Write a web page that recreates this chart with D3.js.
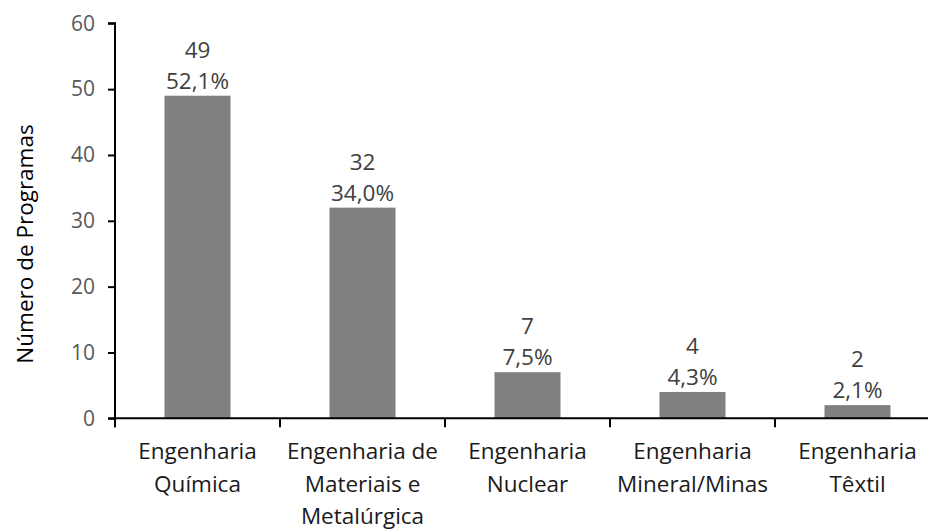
<!DOCTYPE html>
<html>
<head>
<meta charset="utf-8">
<script src="https://cdn.jsdelivr.net/npm/d3@7"></script>
<style>
  body { margin: 0; background: #fff; }
  svg { display: block; }
  text { font-family: "Open Sans", "Noto Sans", sans-serif; }
</style>
</head>
<body>
<svg id="chart" width="928" height="530"></svg>
<script>
const categories = [
  "Engenharia\nQuímica",
  "Engenharia de\nMateriais e\nMetalúrgica",
  "Engenharia\nNuclear",
  "Engenharia\nMineral/Minas",
  "Engenharia\nTêxtil"
];
const counts = [49, 32, 7, 4, 2];
const percents = ["52,1%", "34,0%", "7,5%", "4,3%", "2,1%"];
const yTicks = [0, 10, 20, 30, 40, 50, 60];
const yTitle = "Número de Programas";

const svg = d3.select("#chart");
const x0 = 115, x1 = 940, yTop = 23.3, yBot = 418.3;

const x = d3.scaleBand().domain(categories).range([x0, x1])
  .paddingInner(0.6).paddingOuter(0.3);
const y = d3.scaleLinear().domain([0, 60]).range([yBot, yTop]);

// bars
svg.append("g").selectAll("rect").data(categories).join("rect")
  .attr("x", d => x(d))
  .attr("y", (d, i) => y(counts[i]))
  .attr("width", x.bandwidth())
  .attr("height", (d, i) => y(0) - y(counts[i]))
  .attr("fill", "#808080");

// y axis
const yAxis = svg.append("g").attr("transform", `translate(${x0},0)`)
  .call(d3.axisLeft(y).tickValues(yTicks).tickSize(7).tickPadding(13).tickFormat(d3.format("d")));
yAxis.select(".domain").attr("stroke", "#000").attr("stroke-width", 2)
  .attr("d", `M-7,${yTop}H0V${yBot + 9}`);
yAxis.selectAll(".tick line").attr("stroke", "#000").attr("stroke-width", 2);
yAxis.selectAll(".tick text").attr("fill", "#595959").style("font-size", "21px")
  .style("font-family", '"Open Sans", sans-serif');

// x axis line
const step = x.step();
svg.append("line").attr("x1", x0 - 7).attr("x2", x1).attr("y1", yBot).attr("y2", yBot)
  .attr("stroke", "#000").attr("stroke-width", 2);
const bounds = categories.map(d => x(d) + x.bandwidth() / 2 - step / 2).concat([x(categories[categories.length - 1]) + x.bandwidth() / 2 + step / 2]);
svg.append("g").selectAll("line").data(bounds).join("line")
  .attr("x1", d => d).attr("x2", d => d)
  .attr("y1", yBot).attr("y2", yBot + 9)
  .attr("stroke", "#000").attr("stroke-width", 2);

// category labels
const catG = svg.append("g");
categories.forEach(c => {
  const t = catG.append("text")
    .attr("x", x(c) + x.bandwidth() / 2)
    .attr("y", 459)
    .attr("text-anchor", "middle")
    .attr("fill", "#1a1a1a")
    .style("font-size", "22.5px");
  c.split("\n").forEach((line, j) => {
    t.append("tspan").attr("x", x(c) + x.bandwidth() / 2).attr("y", 459 + j * 32.5).text(line);
  });
});

// data labels
const lab = svg.append("g");
categories.forEach((c, i) => {
  const cx = x(c) + x.bandwidth() / 2;
  const top = y(counts[i]);
  lab.append("text").attr("x", cx).attr("y", top - 7)
    .attr("text-anchor", "middle").attr("fill", "#404040").style("font-size", "22.5px")
    .text(percents[i]);
  lab.append("text").attr("x", cx).attr("y", top - 38)
    .attr("text-anchor", "middle").attr("fill", "#404040").style("font-size", "22.5px")
    .text(counts[i]);
});

// y title
svg.append("text")
  .attr("transform", `translate(33,244) rotate(-90)`)
  .attr("text-anchor", "middle")
  .attr("fill", "#000")
  .style("font-size", "22.5px")
  .text(yTitle);
</script>
</body>
</html>
